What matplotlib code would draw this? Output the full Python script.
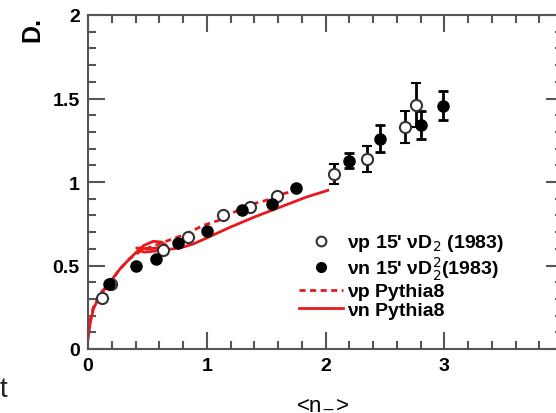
import matplotlib

matplotlib.use("Agg")
import matplotlib.pyplot as plt
from matplotlib.lines import Line2D
from matplotlib.ticker import MultipleLocator

plt.rcParams["font.family"] = ["Liberation Sans", "DejaVu Sans"]

# nu-p 15' nu-D2 (1983): open circles
vp_x = [0.115, 0.19, 0.63, 0.845, 1.14, 1.36, 1.59, 2.07, 2.35, 2.67, 2.76]
vp_y = [0.303, 0.39, 0.59, 0.669, 0.80, 0.852, 0.918, 1.05, 1.138, 1.33, 1.46]
vp_err = [0.0, 0.0, 0.0, 0.0, 0.0, 0.0, 0.0, 0.06, 0.078, 0.098, 0.13]

# nu-n 15' nu-D2 (1983): filled circles
vn_x = [0.18, 0.40, 0.57, 0.755, 1.0, 1.30, 1.55, 1.75, 2.20, 2.46, 2.80, 2.99]
vn_y = [0.39, 0.495, 0.54, 0.633, 0.704, 0.83, 0.868, 0.962, 1.128, 1.26, 1.34, 1.457]
vn_err = [0.0, 0.0, 0.0, 0.0, 0.0, 0.0, 0.0, 0.0, 0.047, 0.08, 0.083, 0.088]

# Pythia8 curves
pyth_p_x = [0.0, 0.02, 0.045, 0.10, 0.185, 0.27, 0.35, 0.45, 0.60, 0.83, 0.97,
            1.10, 1.34, 1.50, 1.645, 1.70]
pyth_p_y = [0.10, 0.18, 0.25, 0.33, 0.40, 0.48, 0.54, 0.59, 0.63, 0.69, 0.74,
            0.77, 0.86, 0.89, 0.93, 0.94]
pyth_n_x = [0.0, 0.02, 0.045, 0.10, 0.185, 0.27, 0.35, 0.40, 0.47, 0.55, 0.62,
            0.66, 0.58, 0.50, 0.41, 0.47, 0.55, 0.65, 0.72, 0.80, 0.89, 1.0,
            1.2, 1.40, 1.62, 1.84, 2.02]
pyth_n_y = [0.06, 0.16, 0.24, 0.32, 0.40, 0.48, 0.54, 0.575, 0.62, 0.645, 0.64,
            0.62, 0.605, 0.60, 0.605, 0.58, 0.585, 0.595, 0.60, 0.61, 0.63, 0.665,
            0.73, 0.79, 0.85, 0.91, 0.95]

x_ticks = [0, 1, 2, 3]
y_ticks = [0, 0.5, 1, 1.5, 2]
y_tick_labels = ["0", "0.5", "1", "1.5", "2"]

fig = plt.figure(figsize=(5.56, 4.14), dpi=100)
ax = fig.add_axes([88 / 556, 64 / 414, 475 / 556, 334 / 414])

ax.plot(pyth_n_x, pyth_n_y, "-", color="#e8181c", lw=2.0, zorder=2)
ax.plot(pyth_p_x, pyth_p_y, "--", color="#e8181c", lw=2.0, dashes=(2.2, 1.6), zorder=2)

ax.errorbar(vp_x, vp_y, yerr=vp_err, fmt="o", mfc="white", mec="#333333", mew=1.5,
            ms=8, ecolor="black", elinewidth=2, capsize=3.5, capthick=2, zorder=3)
ax.errorbar(vn_x, vn_y, yerr=vn_err, fmt="o", mfc="black", mec="black",
            ms=8, ecolor="black", elinewidth=2, capsize=3.5, capthick=2, zorder=3)

ax.set_xlim(0, 4)
ax.set_ylim(0, 2)
ax.set_xticks(x_ticks, [str(t) for t in x_ticks])
ax.xaxis.set_minor_locator(MultipleLocator(0.2))
ax.set_yticks(y_ticks, y_tick_labels)
ax.yaxis.set_minor_locator(MultipleLocator(0.1))
ax.tick_params(which="both", direction="in", top=True, right=True, color="#555555",
               width=1.5, labelsize=14)
ax.tick_params(which="major", length=12, pad=6)
ax.tick_params(which="minor", length=6)
for lab in ax.get_xticklabels() + ax.get_yticklabels():
    lab.set_fontweight("bold")
for sp in ax.spines.values():
    sp.set_color("#555555")
    sp.set_linewidth(1.5)

fig.text(32 / 556, 1 - 30 / 414, "D.", rotation=90, fontsize=18, fontweight="bold",
         ha="center", va="center")
fig.text(323 / 556, 1 - 404 / 414, "<n$_{-}$>", fontsize=16, ha="center", va="center")
fig.text(0.0, 1 - 390 / 414, "t", fontsize=20, color="#222222", ha="left", va="center")

handles = [
    Line2D([], [], ls="none", marker="o", mfc="white", mec="#333333", mew=1.5, ms=7),
    Line2D([], [], ls="none", marker="o", mfc="black", mec="black", ms=7),
    Line2D([], [], ls="--", color="#e8181c", lw=2, dashes=(2.2, 1.6)),
    Line2D([], [], ls="-", color="#e8181c", lw=2),
]
labels = [
    "νp 15' νD$_2$ (1983)",
    "νn 15' νD$_2^2$(1983)",
    "νp Pythia8",
    "νn Pythia8",
]
leg = ax.legend(handles, labels, loc="upper left", bbox_to_anchor=(0.423, 0.378),
                frameon=False, prop={"size": 14, "weight": "bold"},
                handlelength=2.3, labelspacing=0.05, handletextpad=0.2, borderpad=0)

fig.savefig("out.png", dpi=100)
